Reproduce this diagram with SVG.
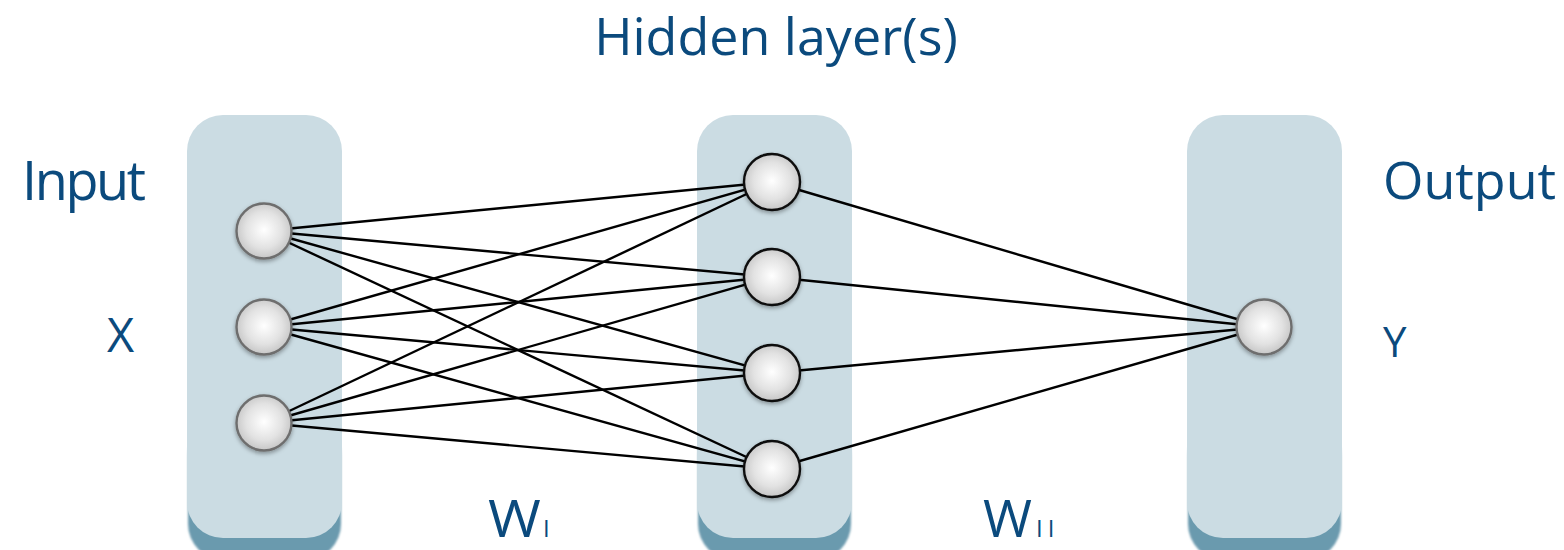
<svg xmlns="http://www.w3.org/2000/svg" width="1564" height="550" viewBox="0 0 1564 550">
  <defs>
    <radialGradient id="ball" cx="50%" cy="48%" r="55%">
      <stop offset="0" stop-color="#ffffff"/>
      <stop offset="0.6" stop-color="#e2e2e2"/>
      <stop offset="1" stop-color="#c2c2c2"/>
    </radialGradient>
    <filter id="soft" x="-30%" y="-30%" width="160%" height="170%">
      <feDropShadow dx="0" dy="2" stdDeviation="2" flood-color="#000" flood-opacity="0.35"/>
    </filter>
    <filter id="blur1" x="-10%" y="-10%" width="120%" height="130%">
      <feGaussianBlur stdDeviation="1"/>
    </filter>
  </defs>
  <style>
    .panel { fill: #cbdce3; }
    .panel-base { fill: #6a9aae; }
    .unit { fill: url(#ball); stroke-width: 2.4; filter: url(#soft); }
    .unit.grey { stroke: #6e6e6e; }
    .unit.dark { stroke: #111111; }
    .edge { stroke: #000; stroke-width: 2.4; fill: none; }
    .label { fill: #0b4a7d; font-family: "Open Sans", "DejaVu Sans", sans-serif; }
  </style>

  <!-- layer panels: a darker base peeks out below each light panel -->
  <g id="input-layer">
    <rect class="panel-base" x="188" y="420" width="153" height="140" rx="36" filter="url(#blur1)"/>
    <rect class="panel" x="187" y="115" width="155" height="423" rx="36"/>
  </g>
  <g id="hidden-layer">
    <rect class="panel-base" x="698" y="420" width="153" height="140" rx="36" filter="url(#blur1)"/>
    <rect class="panel" x="697" y="115" width="155" height="423" rx="36"/>
  </g>
  <g id="output-layer">
    <rect class="panel-base" x="1188" y="420" width="153" height="140" rx="36" filter="url(#blur1)"/>
    <rect class="panel" x="1187" y="115" width="155" height="423" rx="36"/>
  </g>

  <!-- weights between layers -->
  <g id="connectors">
    <line class="edge" x1="264" y1="231" x2="772" y2="182"/>
    <line class="edge" x1="264" y1="231" x2="772" y2="277"/>
    <line class="edge" x1="264" y1="231" x2="772" y2="373"/>
    <line class="edge" x1="264" y1="231" x2="772" y2="469"/>
    <line class="edge" x1="264" y1="327" x2="772" y2="182"/>
    <line class="edge" x1="264" y1="327" x2="772" y2="277"/>
    <line class="edge" x1="264" y1="327" x2="772" y2="373"/>
    <line class="edge" x1="264" y1="327" x2="772" y2="469"/>
    <line class="edge" x1="264" y1="423" x2="772" y2="182"/>
    <line class="edge" x1="264" y1="423" x2="772" y2="277"/>
    <line class="edge" x1="264" y1="423" x2="772" y2="373"/>
    <line class="edge" x1="264" y1="423" x2="772" y2="469"/>
    <line class="edge" x1="772" y1="182" x2="1264" y2="327"/>
    <line class="edge" x1="772" y1="277" x2="1264" y2="327"/>
    <line class="edge" x1="772" y1="373" x2="1264" y2="327"/>
    <line class="edge" x1="772" y1="469" x2="1264" y2="327"/>
  </g>

  <!-- units -->
  <g id="x1"><circle class="unit grey" cx="264" cy="231" r="27.5"/></g>
  <g id="x2"><circle class="unit grey" cx="264" cy="327" r="27.5"/></g>
  <g id="x3"><circle class="unit grey" cx="264" cy="423" r="27.5"/></g>
  <g id="h1"><circle class="unit dark" cx="772" cy="182" r="28"/></g>
  <g id="h2"><circle class="unit dark" cx="772" cy="277" r="28"/></g>
  <g id="h3"><circle class="unit dark" cx="772" cy="373" r="28"/></g>
  <g id="h4"><circle class="unit dark" cx="772" cy="469" r="28"/></g>
  <g id="y1"><circle class="unit grey" cx="1264" cy="327" r="27.5"/></g>

  <!-- labels -->
  <g id="labels">
    <text class="label" x="776" y="55" font-size="52" text-anchor="middle">Hidden layer(s)</text>
    <text class="label" x="22" y="200" font-size="54" textLength="124" lengthAdjust="spacing">Input</text>
    <text class="label" x="107" y="352" font-size="47">X</text>
    <text class="label" x="1383" y="199" font-size="52">Output</text>
    <text class="label" x="1383" y="357" font-size="42">Y</text>
    <!-- weight matrices: W with a small roman index -->
    <text class="label" font-size="52" transform="translate(488 537) scale(1.1 1)">W</text>
    <text class="label" x="543" y="537" font-size="24">I</text>
    <text class="label" font-size="52" transform="translate(983 537) scale(1.02 1)">W</text>
    <text class="label" x="1036" y="537" font-size="24" letter-spacing="5">II</text>
  </g>
</svg>
